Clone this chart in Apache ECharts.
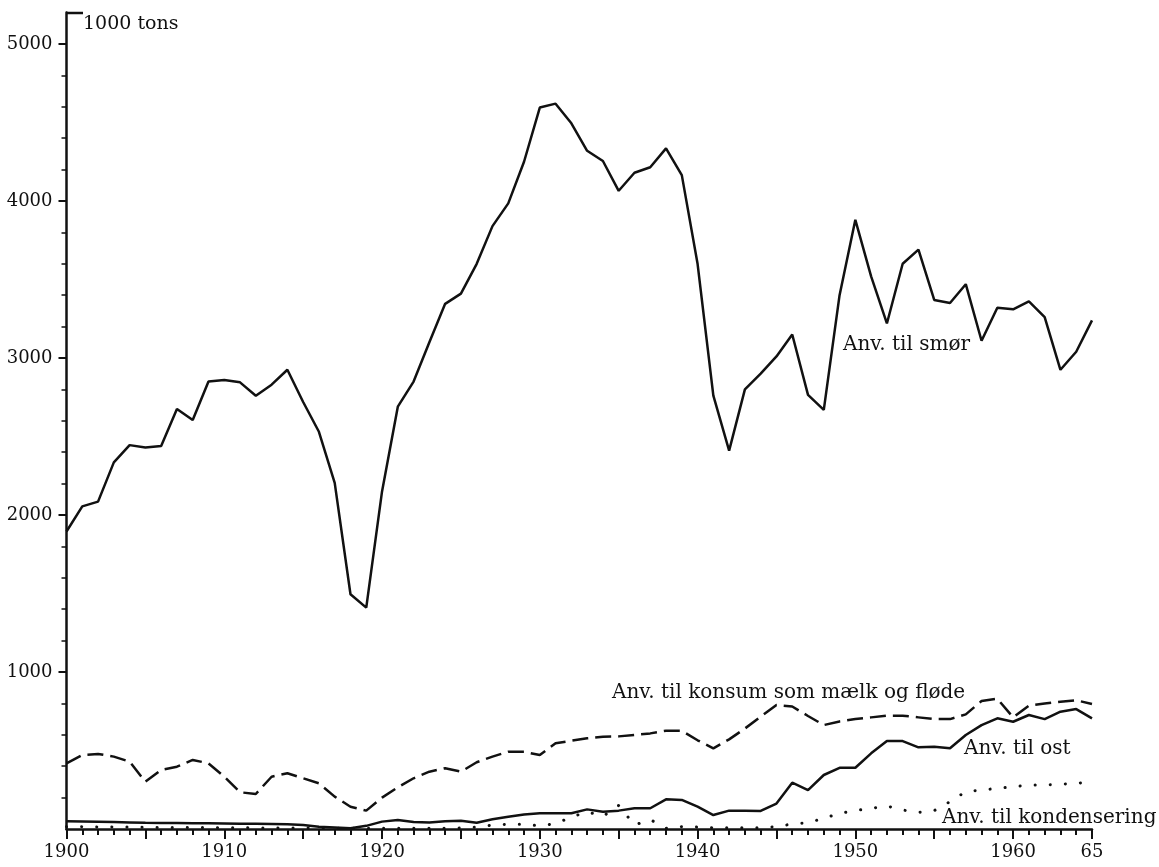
<!DOCTYPE html>
<html>
<head>
<meta charset="utf-8">
<script src="https://cdn.jsdelivr.net/npm/echarts@6/dist/echarts.min.js"></script>
<style>
    html, body { margin: 0; padding: 0; background: #fff; }
    #chart { width: 1159px; height: 867px; }
</style>
</head>
<body>
<div id="chart"></div>
<script type="text/javascript">
    // aar
    var years = [1900, 1901, 1902, 1903, 1904, 1905, 1906, 1907, 1908, 1909,
        1910, 1911, 1912, 1913, 1914, 1915, 1916, 1917, 1918, 1919,
        1920, 1921, 1922, 1923, 1924, 1925, 1926, 1927, 1928, 1929,
        1930, 1931, 1932, 1933, 1934, 1935, 1936, 1937, 1938, 1939,
        1940, 1941, 1942, 1943, 1944, 1945, 1946, 1947, 1948, 1949,
        1950, 1951, 1952, 1953, 1954, 1955, 1956, 1957, 1958, 1959,
        1960, 1961, 1962, 1963, 1964, 1965];

    // 1000 tons
    var smor = [1895, 2055, 2085, 2335, 2445, 2430, 2440, 2675, 2605, 2850,
        2860, 2845, 2760, 2830, 2925, 2720, 2530, 2205, 1495, 1410,
        2150, 2690, 2850, 3100, 3345, 3410, 3600, 3840, 3985, 4250,
        4595, 4620, 4495, 4320, 4255, 4065, 4180, 4215, 4335, 4165,
        3600, 2760, 2410, 2800, 2900, 3010, 3150, 2765, 2670, 3400,
        3880, 3520, 3220, 3600, 3690, 3370, 3350, 3470, 3110, 3320,
        3310, 3360, 3260, 2925, 3040, 3240];

    var konsum = [418, 471, 478, 461, 429, 301, 376, 397, 440, 418,
        333, 234, 223, 333, 355, 323, 291, 206, 142, 117,
        200, 265, 323, 365, 387, 365, 425, 461, 492, 492,
        471, 546, 562, 578, 588, 590, 599, 609, 626, 625,
        565, 514, 571, 640, 715, 790, 780, 720, 662, 685,
        700, 711, 722, 722, 711, 700, 700, 730, 815, 830,
        711, 786, 800, 811, 820, 796];

    var ost = [50, 48, 46, 44, 42, 40, 39, 38, 37, 36,
        35, 34, 33, 32, 30, 25, 15, 10, 5, 20,
        47, 57, 45, 42, 50, 53, 40, 62, 78, 93,
        100, 100, 100, 125, 110, 117, 132, 132, 189, 185,
        142, 89, 117, 117, 115, 162, 295, 248, 344, 390,
        390, 482, 560, 560, 520, 524, 514, 599, 662, 705,
        683, 726, 700, 747, 764, 705];

    var kondens = [15, 14, 13, 12, 12, 11, 10, 10, 9, 9,
        8, 8, 7, 7, 6, 6, 5, 5, 5, 5,
        5, 5, 5, 5, 5, 6, 12, 25, 30, 30,
        20, 35, 75, 110, 80, 150, 25, 60, 5, 15,
        12, 8, 8, 8, 8, 15, 32, 40, 68, 100,
        117, 132, 146, 121, 106, 117, 174, 238, 248, 259,
        269, 280, 280, 285, 291, 301];

    var yLabels = [1000, 2000, 3000, 4000, 5000];
    var yMinor = [200, 400, 600, 800, 1200, 1400, 1600, 1800, 2200, 2400, 2600, 2800,
        3200, 3400, 3600, 3800, 4200, 4400, 4600, 4800];

    function pairs(vals) {
        return years.map(function (y, i) { return [y, vals[i]]; });
    }

    var font = 'DejaVu Serif';
    var black = '#111';
    var noteFont = '20px "DejaVu Serif"';

    var myChart = echarts.init(document.getElementById('chart'), null, {renderer: 'canvas'});
    option = {
        animation: false,
        backgroundColor: '#fff',
        grid: {left: 66.5, right: 67, top: 12.6, bottom: 38},
        xAxis: {
            type: 'value',
            min: 1900,
            max: 1965,
            interval: 5,
            axisLine: {lineStyle: {color: black, width: 2.5}},
            axisTick: {length: 10, lineStyle: {color: black, width: 2}},
            minorTick: {show: true, splitNumber: 5, length: 6, lineStyle: {color: black, width: 2}},
            splitLine: {show: false},
            minorSplitLine: {show: false},
            axisLabel: {
                margin: 14, color: black, fontFamily: font, fontSize: 18,
                formatter: function (v) {
                    if (v === 1965) return '65';
                    return v % 10 === 0 ? String(v) : '';
                }
            }
        },
        yAxis: [
            {
                type: 'value',
                min: 0,
                max: 5200,
                interval: 1000,
                axisLine: {show: true, lineStyle: {color: black, width: 2.5}},
                axisTick: {show: true, length: 8, customValues: yLabels, lineStyle: {color: black, width: 2}},
                splitLine: {show: false},
                axisLabel: {
                    margin: 14, color: black, fontFamily: font, fontSize: 18,
                    customValues: yLabels,
                    formatter: function (v) { return String(v); }
                }
            },
            {
                type: 'value',
                min: 0,
                max: 5200,
                interval: 200,
                position: 'left',
                axisLine: {show: false},
                axisTick: {show: true, length: 5, customValues: yMinor, lineStyle: {color: black, width: 1.5}},
                splitLine: {show: false},
                axisLabel: {show: false}
            }
        ],
        graphic: [
            {type: 'line', shape: {x1: 66, y1: 13, x2: 83, y2: 13}, style: {stroke: black, lineWidth: 2.5}},
            {type: 'text', x: 83, y: 24.5, style: {text: '1000 tons', fill: black, font: '19px "DejaVu Serif"', verticalAlign: 'middle'}},
            {type: 'text', x: 843, y: 345, style: {text: 'Anv. til smør', fill: black, font: noteFont, verticalAlign: 'middle'}},
            {type: 'text', x: 612, y: 692.5, style: {text: 'Anv. til konsum som mælk og fløde', fill: black, font: noteFont, verticalAlign: 'middle'}},
            {type: 'text', x: 964, y: 749, style: {text: 'Anv. til ost', fill: black, font: noteFont, verticalAlign: 'middle'}},
            {type: 'text', x: 942, y: 818, style: {text: 'Anv. til kondensering', fill: black, font: noteFont, verticalAlign: 'middle'}}
        ],
        series: [
            {
                name: 'Anv. til smør', type: 'line', showSymbol: false, data: pairs(smor),
                lineStyle: {color: black, width: 2.5}
            },
            {
                name: 'Anv. til konsum som mælk og fløde', type: 'line', showSymbol: false, data: pairs(konsum),
                lineStyle: {color: black, width: 2.5, type: [16, 7]}
            },
            {
                name: 'Anv. til ost', type: 'line', showSymbol: false, data: pairs(ost),
                lineStyle: {color: black, width: 2.5}
            },
            {
                name: 'Anv. til kondensering', type: 'line', showSymbol: false, data: pairs(kondens),
                lineStyle: {color: black, width: 3, type: [0.1, 15], cap: 'round'}
            }
        ]
    };
    myChart.setOption(option);
</script>
</body>
</html>
